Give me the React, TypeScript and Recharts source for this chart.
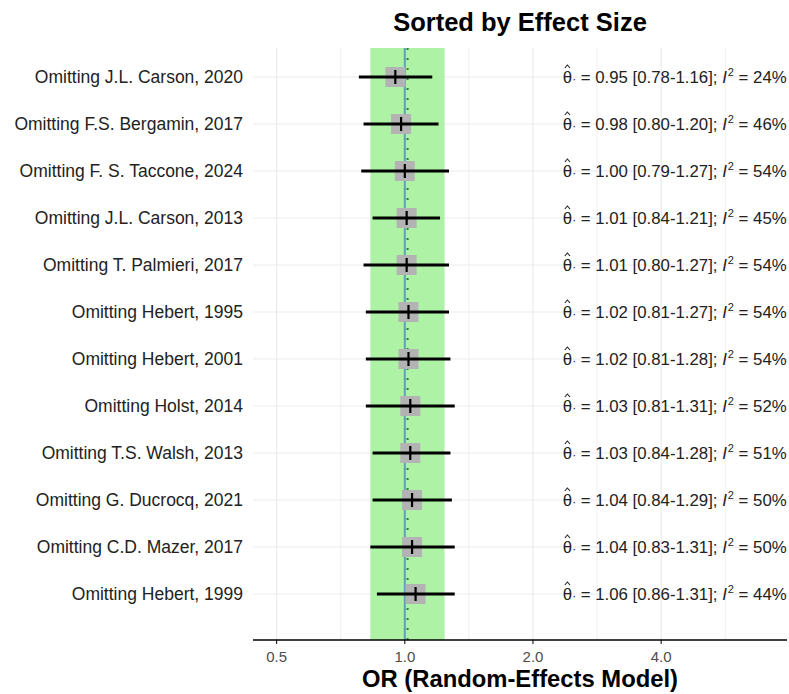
import React from "react";
import {
  ComposedChart,
  Scatter,
  Line,
  XAxis,
  YAxis,
  ReferenceLine,
  ReferenceArea,
} from "recharts";

const studies = [
  "Omitting J.L. Carson, 2020",
  "Omitting F.S. Bergamin, 2017",
  "Omitting F. S. Taccone, 2024",
  "Omitting J.L. Carson, 2013",
  "Omitting T. Palmieri, 2017",
  "Omitting Hebert, 1995",
  "Omitting Hebert, 2001",
  "Omitting Holst, 2014",
  "Omitting T.S. Walsh, 2013",
  "Omitting G. Ducrocq, 2021",
  "Omitting C.D. Mazer, 2017",
  "Omitting Hebert, 1999",
];
const estimates = [0.95, 0.98, 1.0, 1.01, 1.01, 1.02, 1.02, 1.03, 1.03, 1.04, 1.04, 1.06];
const lower = [0.78, 0.8, 0.79, 0.84, 0.8, 0.81, 0.81, 0.81, 0.84, 0.84, 0.83, 0.86];
const upper = [1.16, 1.2, 1.27, 1.21, 1.27, 1.27, 1.28, 1.31, 1.28, 1.29, 1.31, 1.31];
const i2 = [24, 46, 54, 45, 54, 54, 54, 52, 51, 50, 50, 44];

const xTicks = [0.5, 1, 2, 4];
const xMinor = [0.707, 1.414, 2.828, 5.657];
const pooled = { est: 1.015, lo: 0.83, hi: 1.24 };
const LABEL_X = 2.35;

const FONT = "'Liberation Sans', Arial, Helvetica, sans-serif";

const rows = studies.map((name, i) => ({ name, y: i + 1, x: estimates[i] }));

// one two-point segment per study for the confidence interval
const ciSegments = studies.map((_, i) => [
  { x: lower[i], y: i + 1 },
  { x: upper[i], y: i + 1 },
]);

const labelRows = studies.map((_, i) => ({
  y: i + 1,
  x: LABEL_X,
  est: estimates[i],
  lo: lower[i],
  hi: upper[i],
  i2: i2[i],
}));

const Square = (props: any) => {
  const { cx, cy } = props;
  return <rect x={cx - 10} y={cy - 10} width={20} height={20} fill="#b3b3b3" />;
};

const Tick = (props: any) => {
  const { cx, cy } = props;
  return <line x1={cx} x2={cx} y1={cy - 7} y2={cy + 7} stroke="#000" strokeWidth={2.2} />;
};

const StatLabel = (props: any) => {
  const { cx, cy, payload } = props;
  const f = (v: number) => v.toFixed(2);
  return (
    <g>
      {/* hat over theta */}
      <polyline
        points={`${cx + 2},${cy - 9} ${cx + 4.6},${cy - 12} ${cx + 7.2},${cy - 9}`}
        fill="none"
        stroke="#222"
        strokeWidth={1.1}
      />
      <text x={cx} y={cy} dy="0.36em" fontSize={16.8} fill="#222" fontFamily={FONT}>
        <tspan>θ</tspan>
        <tspan fontSize={12}>·</tspan>
        <tspan>{` = ${f(payload.est)} [${f(payload.lo)}-${f(payload.hi)}]; `}</tspan>
        <tspan fontStyle="italic">I</tspan>
        <tspan fontSize={11} dx={1} dy={-7}>2</tspan>
        <tspan dy={7}>{` = ${payload.i2}%`}</tspan>
      </text>
    </g>
  );
};

export default function App() {
  return (
    <div style={{ position: "absolute", left: 0, top: 0, width: 789, height: 694, fontFamily: FONT }}>
      <div
        style={{
          position: "absolute",
          left: 253,
          width: 534,
          top: 10,
          lineHeight: 1,
          textAlign: "center",
          fontWeight: "bold",
          fontSize: 25.5,
          color: "#000",
        }}
      >
        Sorted by Effect Size
      </div>
      <ComposedChart
        width={789}
        height={694}
        margin={{ top: 48, right: 2, bottom: 0, left: 0 }}
        style={{ fontFamily: FONT }}
      >
        <XAxis
          type="number"
          dataKey="x"
          scale="log"
          domain={[0.44, 7.9]}
          allowDataOverflow
          ticks={xTicks}
          tickFormatter={(v: number) => v.toFixed(1)}
          height={54}
          axisLine={{ stroke: "#000", strokeWidth: 1.5 }}
          tickLine={{ stroke: "#000" }}
          tickSize={4}
          tickMargin={7}
          tick={{ fill: "#4d4d4d", fontSize: 15 }}
        />
        <YAxis
          type="number"
          dataKey="y"
          reversed
          domain={[0.383, 12.979]}
          allowDataOverflow
          ticks={rows.map((r) => r.y)}
          tickFormatter={(v: number) => studies[v - 1] ?? ""}
          width={253}
          axisLine={false}
          tickLine={false}
          tickSize={0}
          tickMargin={10}
          tick={{ fill: "#222", fontSize: 17.5 }}
        />
        {rows.map((r) => (
          <ReferenceLine key={`h${r.y}`} y={r.y} stroke="#ebebeb" strokeWidth={1} zIndex={-90} />
        ))}
        {xMinor.map((v) => (
          <ReferenceLine key={`m${v}`} x={v} stroke="#f0f0f0" strokeWidth={1} zIndex={-90} />
        ))}
        {xTicks.map((v) => (
          <ReferenceLine key={`v${v}`} x={v} stroke="#e6e6e6" strokeWidth={1} zIndex={-90} />
        ))}
        <ReferenceArea
          x1={pooled.lo}
          x2={pooled.hi}
          fill="#aef2a6"
          fillOpacity={1}
          stroke="none"
          zIndex={-80}
        />
        <ReferenceLine x={1} stroke="#5f9fbf" strokeWidth={2} zIndex={-70} />
        <ReferenceLine
          x={pooled.est}
          stroke="#2e7d4f"
          strokeWidth={2}
          strokeDasharray="2 8"
          zIndex={-70}
        />
        <Scatter data={rows} shape={Square} isAnimationActive={false} zIndex={600} />
        {ciSegments.map((seg, i) => (
          <Line
            key={`ci${i}`}
            data={seg}
            dataKey="y"
            stroke="#000"
            strokeWidth={3}
            dot={false}
            activeDot={false}
            isAnimationActive={false}
            zIndex={610}
          />
        ))}
        <Scatter data={rows} shape={Tick} isAnimationActive={false} zIndex={620} />
        <Scatter data={labelRows} shape={StatLabel} isAnimationActive={false} zIndex={620} />
      </ComposedChart>
      <div
        style={{
          position: "absolute",
          left: 253,
          width: 534,
          top: 669.2,
          lineHeight: 0.8,
          textAlign: "center",
          fontWeight: "bold",
          fontSize: 23.8,
          color: "#000",
        }}
      >
        OR (Random-Effects Model)
      </div>
    </div>
  );
}
